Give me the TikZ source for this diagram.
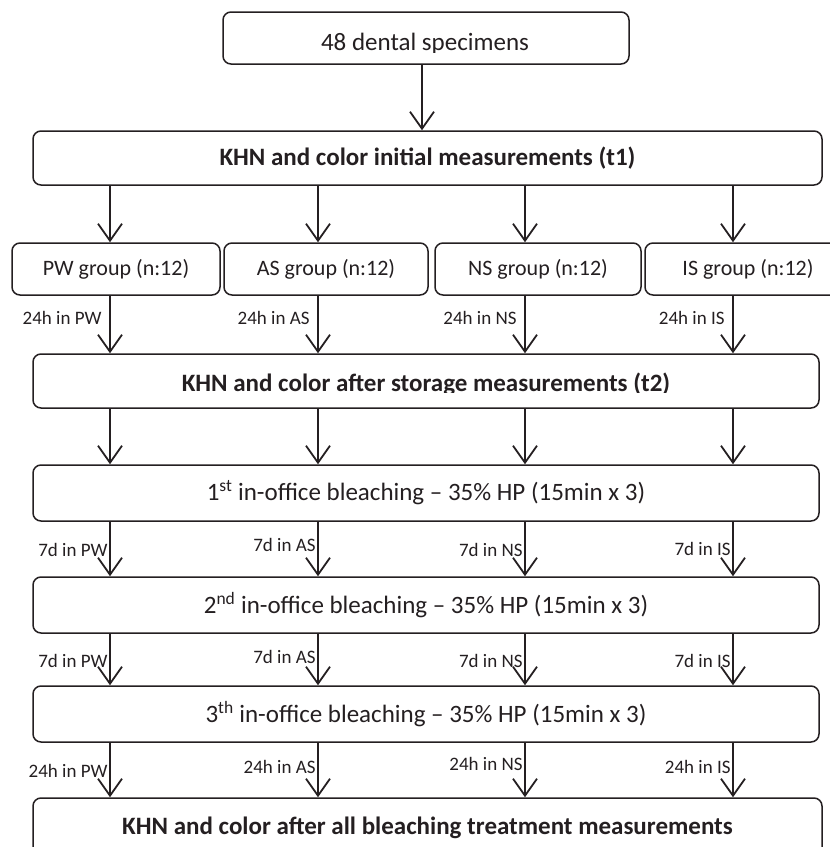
\documentclass[tikz,border=0pt]{standalone}
\usepackage{fontspec}
\setmainfont{Carlito}
\usetikzlibrary{arrows.meta}
\definecolor{ink}{rgb}{0.14,0.12,0.13}
\begin{document}
\begin{tikzpicture}[x=1pt,y=-1pt, color=ink,
 box/.style={draw, line width=1.5pt, rounded corners=8pt, align=center, inner sep=0pt},
 arr/.style={line width=1.8pt, -{Straight Barb[length=17pt,width=24pt]}},
 lab/.style={font=\fontsize{19}{22}\selectfont, inner sep=1.5pt},
 big/.style={font=\fontsize{25}{30}\selectfont},
 bigb/.style={font=\fontsize{25}{30}\selectfont\bfseries},
 grp/.style={font=\fontsize{22}{26}\selectfont}]
\useasboundingbox (0,0) rectangle (830,847);
\clip (0,0) rectangle (830,847);
% column positions
\coordinate (c0) at (422,0);
\coordinate (c1) at (110,0);
\coordinate (c2) at (318,0);
\coordinate (c3) at (525,0);
\coordinate (c4) at (733,0);
% boxes
\node[box, minimum width=406pt, minimum height=52pt] (top) at (426,38) {};
\begin{scope}
\clip (0,12) rectangle (830,52);
\node[big, inner sep=0pt, anchor=base] (toptxt) at (425,50) {48 dental specimens};
\end{scope}
\node[box, bigb, minimum width=789pt, minimum height=54pt] (t1) at (427.5,158) {KHN and color initial measurements (t1)};
\node[box, grp, minimum width=208pt, minimum height=52pt] (g1) at (116,269) {PW group (n:12)};
\node[box, grp, minimum width=204pt, minimum height=52pt] (g2) at (326,269) {AS group (n:12)};
\node[box, grp, minimum width=206pt, minimum height=52pt] (g3) at (538,269) {NS group (n:12)};
\node[box, grp, minimum width=206pt, minimum height=52pt] (g4) at (748,269) {IS group (n:12)};
\node[box, minimum width=786pt, minimum height=54pt] (t2) at (426,381) {};
\begin{scope}
\clip (0,354) rectangle (830,392.5);
\node[bigb, inner sep=0pt, anchor=base] (t2txt) at (426,391) {KHN and color after storage measurements (t2)};
\end{scope}
\node[box, big, minimum width=786pt, minimum height=56pt] (b1) at (426,493) {1\textsuperscript{st} in-office bleaching -- 35\% HP (15min x 3)};
\node[box, big, minimum width=786pt, minimum height=56pt] (b2) at (426,605) {2\textsuperscript{nd} in-office bleaching -- 35\% HP (15min x 3)};
\node[box, big, minimum width=786pt, minimum height=56pt] (b3) at (426,714) {3\textsuperscript{th} in-office bleaching -- 35\% HP (15min x 3)};
\node[box, bigb, minimum width=789pt, minimum height=60pt] (fin) at (427.5,828) {KHN and color after all bleaching treatment measurements};
% arrows
\draw[arr] (top.south -| c0) -- (t1.north -| c0);
\foreach \c/\g in {c1/g1,c2/g2,c3/g3,c4/g4}{
  \draw[arr] (t1.south -| \c) -- (\g.north -| \c);
}
\draw[arr] (g1.south -| c1) -- node[lab, left, pos=0.38, xshift=-6pt] (l11) {24h in PW} (t2.north -| c1);
\draw[arr] (g2.south -| c2) -- node[lab, left, pos=0.38, xshift=-6pt] (l12) {24h in AS} (t2.north -| c2);
\draw[arr] (g3.south -| c3) -- node[lab, left, pos=0.38, xshift=-6pt] (l13) {24h in NS} (t2.north -| c3);
\draw[arr] (g4.south -| c4) -- node[lab, left, pos=0.38, xshift=-6pt] (l14) {24h in IS} (t2.north -| c4);
\foreach \c in {c1,c2,c3,c4}{
  \draw[arr] (t2.south -| \c) -- (b1.north -| \c);
}
\draw[arr] (b1.south -| c1) -- node[lab, left, pos=0.52] (l21) {7d in PW} (b2.north -| c1);
\draw[arr] (b1.south -| c2) -- node[lab, left, pos=0.42] (l22) {7d in AS} (b2.north -| c2);
\draw[arr] (b1.south -| c3) -- node[lab, left, pos=0.52] (l23) {7d in NS} (b2.north -| c3);
\draw[arr] (b1.south -| c4) -- node[lab, left, pos=0.5] (l24) {7d in IS} (b2.north -| c4);
\draw[arr] (b2.south -| c1) -- node[lab, left, pos=0.52] (l31) {7d in PW} (b3.north -| c1);
\draw[arr] (b2.south -| c2) -- node[lab, left, pos=0.46] (l32) {7d in AS} (b3.north -| c2);
\draw[arr] (b2.south -| c3) -- node[lab, left, pos=0.52] (l33) {7d in NS} (b3.north -| c3);
\draw[arr] (b2.south -| c4) -- node[lab, left, pos=0.52] (l34) {7d in IS} (b3.north -| c4);
\draw[arr] (b3.south -| c1) -- node[lab, left, pos=0.52] (l41) {24h in PW} (fin.north -| c1);
\draw[arr] (b3.south -| c2) -- node[lab, left, pos=0.44] (l42) {24h in AS} (fin.north -| c2);
\draw[arr] (b3.south -| c3) -- node[lab, left, pos=0.38] (l43) {24h in NS} (fin.north -| c3);
\draw[arr] (b3.south -| c4) -- node[lab, left, pos=0.44] (l44) {24h in IS} (fin.north -| c4);
\end{tikzpicture}
\end{document}
